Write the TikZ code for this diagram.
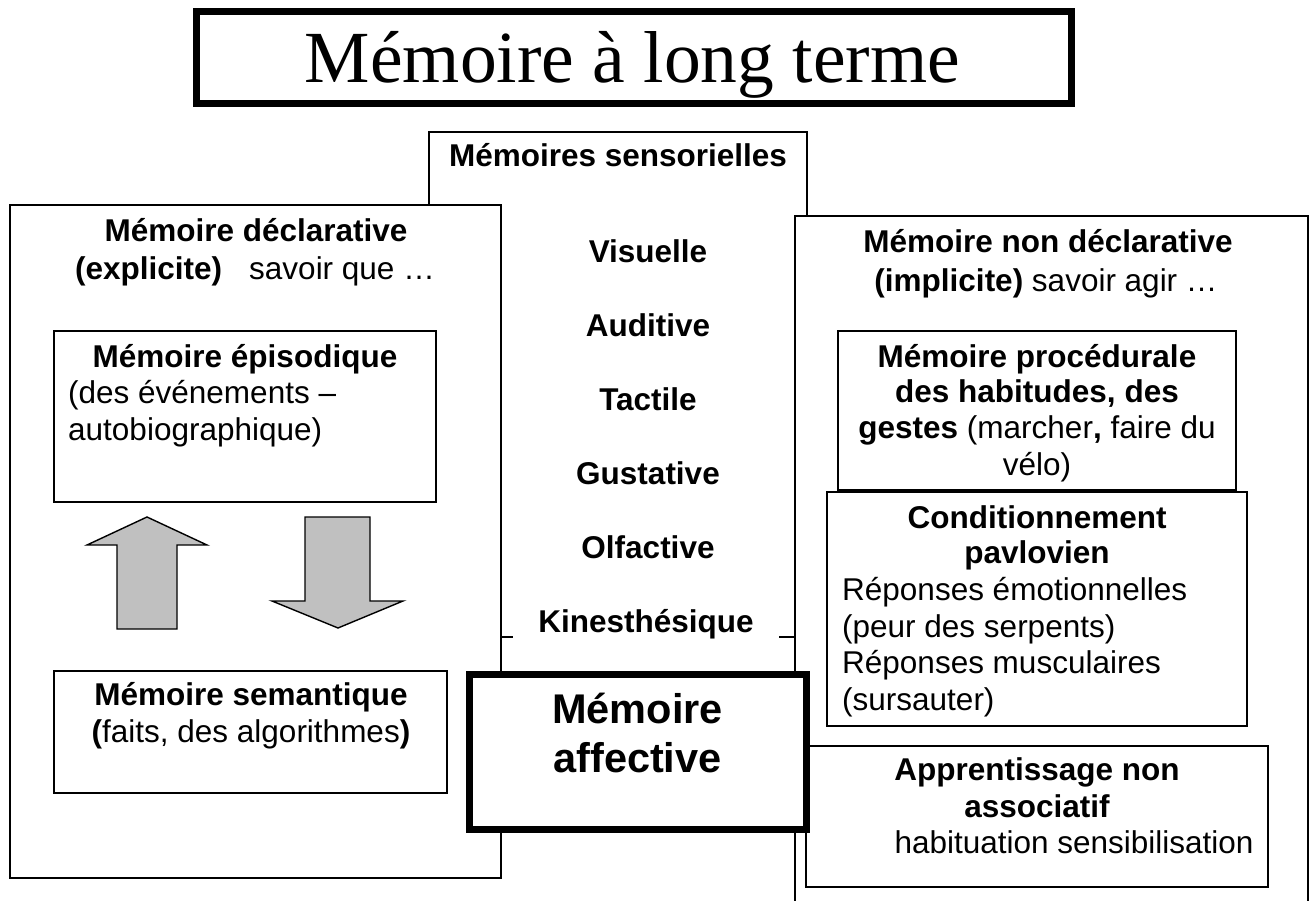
\documentclass[tikz,border=0pt]{standalone}
\usepackage{fontspec}
\setmainfont{Liberation Sans}
\newfontfamily\titlefont{Liberation Serif}
\definecolor{arrowgray}{HTML}{C0C0C0}
\begin{document}
\begin{tikzpicture}[x=1pt,y=-1pt,
  box/.style={draw=black, line width=1.4pt, fill=white},
  thickbox/.style={draw=black, line width=7pt, fill=white},
  ln/.style={anchor=base, inner sep=0pt, font=\fontsize{31.5}{36.5}\selectfont},
  lnw/.style={ln, anchor=base west},
  bln/.style={ln, font=\fontsize{31.5}{36.5}\selectfont\bfseries},
  bigln/.style={ln, font=\fontsize{41.5}{48}\selectfont\bfseries},
  fatarrow/.style={draw=black, line width=1.4pt, fill=arrowgray, line join=miter}
]
\useasboundingbox (0,0) rectangle (1312,901);
\fill[white] (0,0) rectangle (1312,901);

% title
\draw[line width=7pt] (196,12) rectangle (1071,104);
\node[anchor=base, inner sep=0pt, font=\titlefont\fontsize{73.5}{80}\selectfont] (title) at (632.5,83) {Mémoire à long terme};

% sensorial box (partly hidden)
\draw[box] (429,132) rectangle (807,637);

% declarative box
\draw[box] (10,205) rectangle (501,878);

% non-declarative box (runs off the bottom)
\filldraw[box] (795,910) -- (795,216) -- (1308,216) -- (1308,910);

% inner boxes left
\draw[box] (54,331) rectangle (436,502);
\draw[box] (54,671) rectangle (447,793);

% arrows
\draw[fatarrow] (147,517) -- (207,545) -- (177,545) -- (177,629) -- (117,629) -- (117,545) -- (87,545) -- cycle;
\draw[fatarrow] (338,628) -- (403,601) -- (370,601) -- (370,517) -- (305,517) -- (305,601) -- (272,601) -- cycle;

% inner boxes right
\draw[box] (838,331) rectangle (1236,490);
\draw[box] (827,492) rectangle (1247,726);
\draw[box] (806,746) rectangle (1268,887);

% sensorial texts
\node[bln] (sens) at (618,167) {Mémoires sensorielles};
\node[bln] (vis) at (648,263) {Visuelle};
\node[bln] (aud) at (648,336.8) {Auditive};
\node[bln] (tac) at (648,410.6) {Tactile};
\node[bln] (gus) at (648,484.4) {Gustative};
\node[bln] (olf) at (648,558.2) {Olfactive};
\node[bln, fill=white, minimum width=266pt, minimum height=50pt] (kin) at (646,632) {Kinesthésique};

% affective box
\draw[thickbox] (469,674) rectangle (806,829);
\node[bigln] (aff1) at (637.5,723) {Mémoire};
\node[bigln] (aff2) at (637.5,772) {affective};

% declarative texts
\node[bln] (decl1) at (256,242) {Mémoire déclarative};
\node[ln] (decl2) at (255,280) {\textbf{(explicite)}\hspace{27pt}savoir que …};
\node[bln] (epi1) at (245,367) {Mémoire épisodique};
\node[lnw] (epi2) at (68,403) {(des événements –};
\node[lnw] (epi3) at (68,440) {autobiographique)};
\node[bln] (sem1) at (251,705) {Mémoire semantique};
\node[ln] (sem2) at (251,742) {\textbf{(}faits, des algorithmes\textbf{)}};

% non-declarative texts
\node[bln] (nd1) at (1048,253) {Mémoire non déclarative};
\node[ln] (nd2) at (1046,292) {\textbf{(implicite)} savoir agir …};
\node[bln] (pro1) at (1037,367) {Mémoire procédurale};
\node[bln] (pro2) at (1037,402) {des habitudes, des};
\node[ln] (pro3) at (1037,438) {\textbf{gestes} (marcher\textbf{,} faire du};
\node[ln] (pro4) at (1037,475) {vélo)};
\node[bln] (con1) at (1037,528) {Conditionnement};
\node[bln] (con2) at (1037,563) {pavlovien};
\node[lnw] (con3) at (842,600) {Réponses émotionnelles};
\node[lnw] (con4) at (842,637) {(peur des serpents)};
\node[lnw] (con5) at (842,673) {Réponses musculaires};
\node[lnw] (con6) at (842,710) {(sursauter)};
\node[bln] (app1) at (1037,780) {Apprentissage non};
\node[bln] (app2) at (1037,817) {associatif};
\node[ln] (app3) at (1074,853) {habituation sensibilisation};
\end{tikzpicture}
\end{document}
